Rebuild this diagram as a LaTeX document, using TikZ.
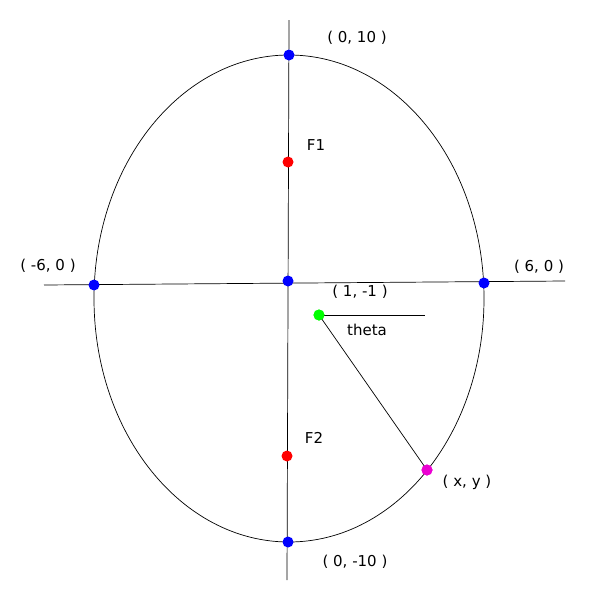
\documentclass[tikz,border=0pt]{standalone}
\usepackage{fontspec}
\setmainfont{DejaVu Sans}
\definecolor{mag}{RGB}{235,0,210}
\begin{document}
\begin{tikzpicture}[x=1pt,y=-1pt,
  pt/.style={circle,inner sep=0pt,minimum size=11pt},
  lbl/.style={font=\fontsize{15}{17}\selectfont,inner sep=0pt}]
\useasboundingbox (0,0) rectangle (600,600);
\draw[black,line width=0.7pt] (289,298.5) ellipse [x radius=195, y radius=243.5];
\coordinate (vt) at (289,20); \coordinate (vb) at (287,580);
\coordinate (hl) at (44,285); \coordinate (hr) at (565,281);
\draw[line width=0.7pt] (vt) -- (vb);
\draw[line width=0.7pt] (hl) -- (hr);
\node[pt,fill=blue] (top) at (289,55) {};
\node[pt,fill=red] (f1) at (288,162) {};
\node[pt,fill=blue] (c) at (288,281) {};
\node[pt,fill=red] (f2) at (287,456) {};
\node[pt,fill=blue] (bot) at (288,542) {};
\node[pt,fill=blue] (l) at (94,285) {};
\node[pt,fill=blue] (r) at (484,283) {};
\node[pt,fill=green] (g) at (319,315) {};
\node[pt,fill=mag] (m) at (427,470) {};
\coordinate (te) at (425,315);
\draw[line width=0.7pt] (g.center) -- (m.center);
\draw[line width=0.7pt] (g.center) -- (te);
\node[pt,fill=green] at (319,315) {};
\node[pt,fill=mag] at (427,470) {};
\node[lbl] (t1) at (357,38) {( 0, 10 )};
\node[lbl] (t2) at (316,145) {F1};
\node[lbl] (t3) at (48,266) {( -6, 0 )};
\node[lbl] (t4) at (539,267) {( 6, 0 )};
\node[lbl] (t5) at (360,292) {( 1, -1 )};
\node[lbl] (t6) at (367,330) {theta};
\node[lbl] (t7) at (314,438) {F2};
\node[lbl] (t8) at (467,482) {( x, y )};
\node[lbl] (t9) at (355,562) {( 0, -10 )};
\end{tikzpicture}
\end{document}
